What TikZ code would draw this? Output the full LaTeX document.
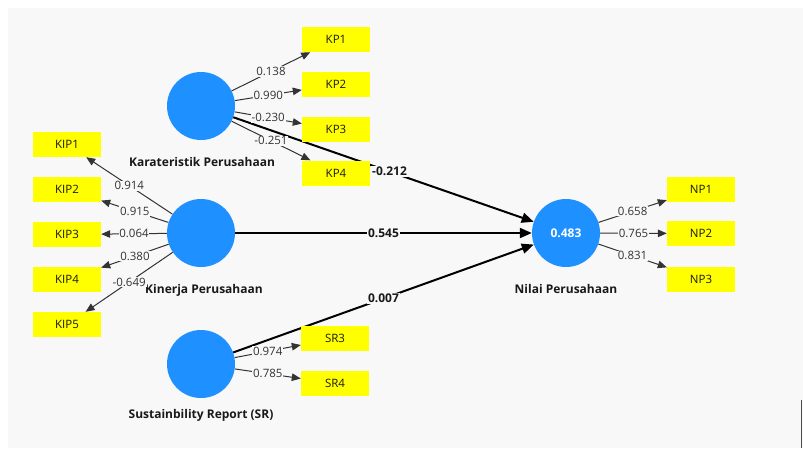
\documentclass[tikz,border=0pt]{standalone}
\usepackage{fontspec}
\setmainfont{Open Sans}
\usetikzlibrary{arrows.meta}
\definecolor{panel}{HTML}{F8F8F8}
\definecolor{lvblue}{HTML}{1E90FF}
\definecolor{indyellow}{HTML}{FFFF00}
\begin{document}
\begin{tikzpicture}[x=1pt,y=-1pt,
  lvnode/.style={circle,fill=lvblue,minimum size=68pt,inner sep=0pt},
  indbox/.style={rectangle,fill=indyellow,minimum width=68pt,minimum height=25pt,inner sep=0pt,font=\fontsize{11.5}{13}\selectfont,text=black!90},
  lvlabel/.style={font=\bfseries\fontsize{12}{14}\selectfont,text=black!90},
  loading/.style={draw=black!80,line width=1pt,-{Triangle[length=9pt,width=7.5pt]}},
  wlabel/.style={midway,fill=panel,inner sep=0.8pt,font=\fontsize{11.5}{13}\selectfont,text=black!80},
  pathline/.style={draw=black,line width=2pt,-{Triangle[length=12pt,width=10pt]}},
  plabel/.style={fill=panel,inner sep=1pt,font=\bfseries\fontsize{12}{14}\selectfont,text=black!90}]
\useasboundingbox (0,0) rectangle (803,448);
\fill[white] (0,0) rectangle (803,448);
\fill[panel] (8,8) rectangle (803,448);
\draw[black!70,line width=1.5pt] (801.5,400) -- (801.5,448);
% latent variables
\node[lvnode] (KP) at (201,106) {};
\node[lvnode] (KIP) at (201,233) {};
\node[lvnode] (SR) at (201,364) {};
\node[lvnode,font=\bfseries\fontsize{12}{14}\selectfont,text=white] (NP) at (566,233) {0.483};
\node[lvlabel] (KPl) at (202,162) {Karateristik Perusahaan};
\node[lvlabel] (KIPl) at (204,290) {Kinerja Perusahaan};
\node[lvlabel] (SRl) at (201,415) {Sustainbility Report (SR)};
\node[lvlabel] (NPl) at (566,289) {Nilai Perusahaan};
% structural paths
\draw[pathline] (KP) -- (NP) node[plabel,pos=0.52] {-0.212};
\draw[pathline] (KIP) -- (NP) node[plabel,midway] {0.545};
\draw[pathline] (SR) -- (NP) node[plabel,midway] {0.007};
% indicators
\node[indbox] (KP1) at (336,39.5) {KP1};
\node[indbox] (KP2) at (336,84.5) {KP2};
\node[indbox] (KP3) at (336,129.5) {KP3};
\node[indbox] (KP4) at (336,173) {KP4};
\node[indbox] (KIP1) at (67,144.5) {KIP1};
\node[indbox] (KIP2) at (67,189.5) {KIP2};
\node[indbox] (KIP3) at (67,234.5) {KIP3};
\node[indbox] (KIP4) at (67,279.5) {KIP4};
\node[indbox] (KIP5) at (67,324.5) {KIP5};
\node[indbox] (SR3) at (335,338.5) {SR3};
\node[indbox] (SR4) at (335,383.5) {SR4};
\node[indbox] (NP1) at (701,189) {NP1};
\node[indbox] (NP2) at (701,233.5) {NP2};
\node[indbox] (NP3) at (701,279) {NP3};
% loadings
\draw[loading] (KP) -- (KP1) node[wlabel] {0.138};
\draw[loading] (KP) -- (KP2) node[wlabel] {0.990};
\draw[loading] (KP) -- (KP3) node[wlabel] {-0.230};
\draw[loading] (KP) -- (KP4) node[wlabel] {-0.251};
\draw[loading] (KIP) -- (KIP1) node[wlabel] {0.914};
\draw[loading] (KIP) -- (KIP2) node[wlabel] {0.915};
\draw[loading] (KIP) -- (KIP3) node[wlabel] {0.064};
\draw[loading] (KIP) -- (KIP4) node[wlabel] {0.380};
\draw[loading] (KIP) -- (KIP5) node[wlabel] {-0.649};
\draw[loading] (SR) -- (SR3) node[wlabel] {0.974};
\draw[loading] (SR) -- (SR4) node[wlabel] {0.785};
\draw[loading] (NP) -- (NP1) node[wlabel] {0.658};
\draw[loading] (NP) -- (NP2) node[wlabel] {0.765};
\draw[loading] (NP) -- (NP3) node[wlabel] {0.831};
\end{tikzpicture}
\end{document}
